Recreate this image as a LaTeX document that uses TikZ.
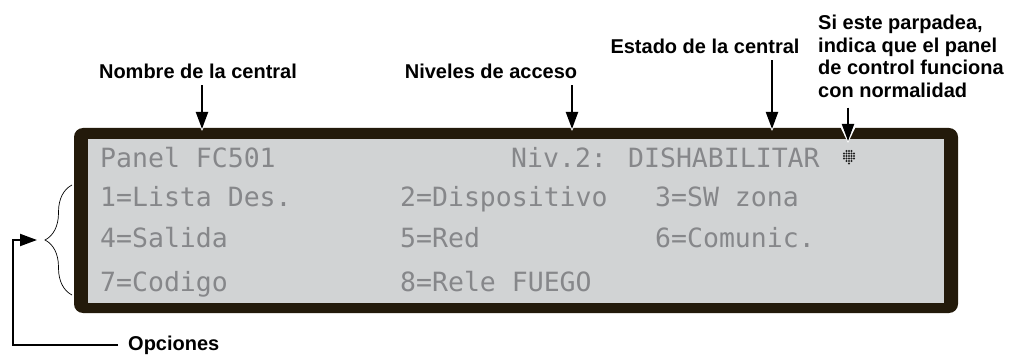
\documentclass[tikz,border=0pt]{standalone}
\usepackage{fontspec}
\setmainfont{Liberation Sans}
\newfontfamily\lcdfont{DejaVu Sans Mono}
\usepackage{tikz}
\usetikzlibrary{arrows.meta,positioning,decorations.pathreplacing}
\definecolor{panelframe}{HTML}{231A0B}
\definecolor{panelscreen}{HTML}{D1D3D4}
\definecolor{lcdgray}{HTML}{86878A}
\definecolor{leddot}{HTML}{222222}

\begin{document}
\begin{tikzpicture}[
  x=1pt, y=-1pt,
  callout/.style={font=\bfseries\fontsize{20}{22.5}\selectfont, inner sep=3pt},
  lcd/.style={font=\lcdfont\fontsize{26.5}{26.5}\selectfont, text=lcdgray, anchor=base west, inner sep=0pt},
  pointer/.style={draw, line width=2pt, -{Triangle[length=17pt,width=12pt]}},
  onframe/.style={preaction={draw=white, line width=5pt, shorten >=-2.5pt, -{Triangle[length=19pt,width=16pt]}}}
]
  \useasboundingbox (0,0) rectangle (1018,358);

  % Panel
  \fill[panelframe, rounded corners=9pt] (74,128) rectangle (958,313);
  \fill[panelscreen] (88,139) rectangle (944,303);

  % Display lines
  \node[lcd] (titulo) at (100,168) {Panel FC501};
  \node[lcd] (nivel) at (511,168) {Niv.2: DISHABILITAR};
  \node[lcd] (opc1) at (100,207) {1=Lista Des.};
  \node[lcd] (opc2) at (400,207) {2=Dispositivo};
  \node[lcd] (opc3) at (655,207) {3=SW zona};
  \node[lcd] (opc4) at (100,248) {4=Salida};
  \node[lcd] (opc5) at (400,248) {5=Red};
  \node[lcd] (opc6) at (655,248) {6=Comunic.};
  \node[lcd] (opc7) at (100,291) {7=Codigo};
  \node[lcd] (opc8) at (400,291) {8=Rele FUEGO};

  % Blinking dot
  \coordinate (led) at (849,156);
  \foreach \i in {-2,...,2}
    \foreach \j in {-2,...,2} {
      \pgfmathtruncatemacro{\keep}{abs(\i)*abs(\j)<4}
      \ifnum\keep=1 \fill[leddot] ([shift={(\i*2.5,\j*2.5)}]led) circle (1.15pt); \fi
    }
  \fill[leddot] ([shift={(0,3*2.5)}]led) circle (1.15pt);

  % Labels above
  \node[callout, anchor=base] (nombre) at (198,79) {Nombre de la central};
  \node[callout, anchor=base] (niveles) at (491,79) {Niveles de acceso};
  \node[callout, anchor=base] (estado) at (705,54) {Estado de la central};
  \node[callout, anchor=north west, align=left, inner sep=0pt] (parpadeo) at (818,15)
    {Si este parpadea,\\ indica que el panel\\ de control funciona\\ con normalidad};
  \node[callout, anchor=west, inner xsep=5pt] (opciones) at (123,345) {Opciones};

  \coordinate (tipNombre) at (202,129);
  \coordinate (tipNiveles) at (572,129);
  \coordinate (tipEstado) at (772,129);
  \coordinate (tipLed) at (848,141);

  % Pointers
  \draw[pointer, onframe, shorten <=3pt] (nombre.south -| tipNombre) -- (tipNombre);
  \draw[pointer, onframe, shorten <=3pt] (niveles.south -| tipNiveles) -- (tipNiveles);
  \draw[pointer, onframe, shorten <=3pt] (estado.south -| tipEstado) -- (tipEstado);
  \draw[pointer, onframe, shorten <=10pt] (parpadeo.south -| tipLed) -- (tipLed);

  % Options brace
  \coordinate (braceTop) at (72,185);
  \coordinate (braceBot) at (72,295);
  \coordinate (braceTip) at (45,240);
  \coordinate (bend) at (13,240);
  \draw[line width=0.7pt, decorate, decoration={brace, amplitude=27pt}] (braceBot) -- (braceTop);
  \draw[pointer, shorten <=5pt, shorten >=8pt] (opciones.west) -| (bend) -- (braceTip);
\end{tikzpicture}
\end{document}
